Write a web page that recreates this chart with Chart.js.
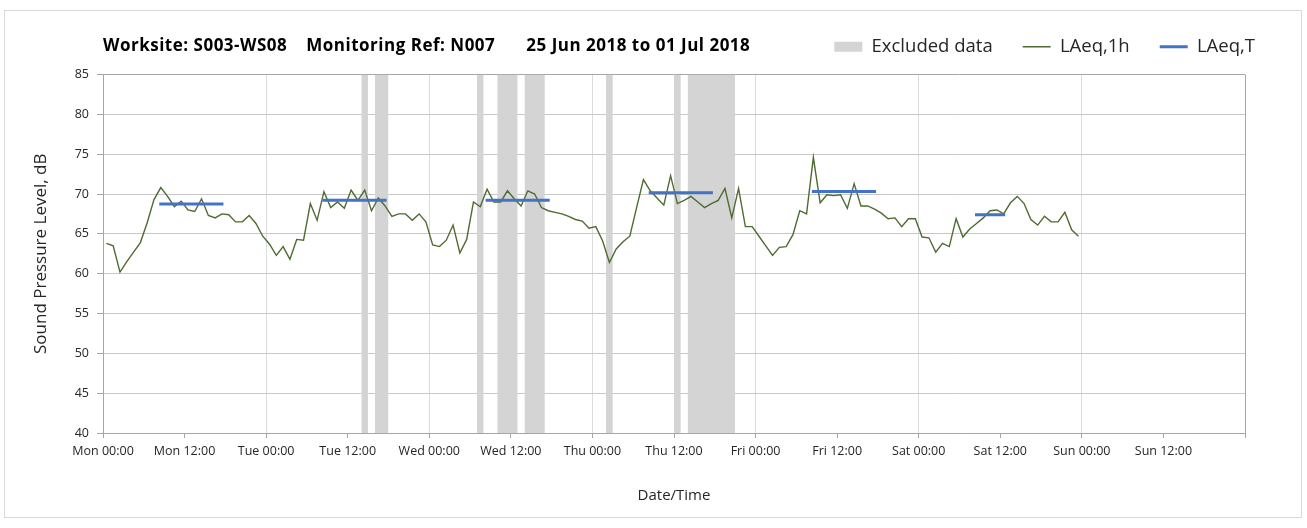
<!DOCTYPE html>
<html>
<head>
<meta charset="utf-8">
<title>Noise monitoring N007</title>
<script src="https://cdn.jsdelivr.net/npm/chart.js@4.4.0/dist/chart.umd.min.js"></script>
<style>
  html, body { margin: 0; padding: 0; background: #fff; }
  #wrap { position: relative; width: 1307px; height: 528px; }
  #frame { position: absolute; left: 4px; top: 10px; width: 1298px; height: 508px; border: 1px solid #d9d9d9; box-sizing: border-box; }
  #chart { position: absolute; left: 0; top: 0; }
  #chartTitle { position: absolute; left: 103px; top: 34px; font: bold 17px 'Open Sans'; letter-spacing: 0.5px; line-height: 22px; color: #000; white-space: pre; }
  #chartTitle span { margin-left: 19px; }
  #chartTitle span.wide { margin-left: 31px; }
</style>
</head>
<body>
<div id="wrap">
  <div id="frame"></div>
  <canvas id="chart" width="1307" height="528"></canvas>
  <div id="chartTitle">Worksite: S003-WS08<span>Monitoring Ref: N007</span><span class="wide">25 Jun 2018 to 01 Jul 2018</span></div>
</div>
<script>
// hourly LAeq,1h from Mon 00:00, one value per hour (plotted mid-hour)
const laeq1h = [
  63.8, 63.5, 60.2, 61.5, 62.7, 63.9, 66.4, 69.3, 70.8, 69.7, 68.4, 69.1,
  68.0, 67.8, 69.4, 67.3, 67.0, 67.5, 67.4, 66.5, 66.5, 67.3, 66.3, 64.7,
  63.7, 62.3, 63.4, 61.8, 64.3, 64.2, 68.8, 66.7, 70.3, 68.3, 69.0, 68.2,
  70.5, 69.2, 70.5, 67.9, 69.5, 68.5, 67.2, 67.5, 67.5, 66.7, 67.5, 66.5,
  63.6, 63.4, 64.2, 66.1, 62.6, 64.3, 69.0, 68.4, 70.6, 69.0, 69.0, 70.4,
  69.4, 68.5, 70.4, 70.0, 68.3, 67.9, 67.7, 67.5, 67.2, 66.8, 66.6, 65.7,
  65.9, 64.1, 61.4, 63.1, 64.0, 64.7, 68.3, 71.8, 70.4, 69.5, 68.6, 72.3,
  68.8, 69.2, 69.7, 69.0, 68.3, 68.8, 69.2, 70.7, 67.0, 70.7, 65.9, 65.9,
  64.7, 63.5, 62.3, 63.3, 63.4, 64.9, 67.9, 67.5, 74.6, 68.9, 69.9, 69.8,
  69.9, 68.2, 71.3, 68.5, 68.5, 68.1, 67.6, 66.9, 67.0, 65.9, 66.9, 66.9,
  64.6, 64.5, 62.7, 63.8, 63.4, 66.9, 64.6, 65.6, 66.3, 67.0, 67.9, 68.0,
  67.5, 68.9, 69.7, 68.8, 66.8, 66.1, 67.2, 66.5, 66.5, 67.7, 65.5, 64.7
];

// LAeq,T daytime periods (hours from Mon 00:00)
const periodStart = [8.5, 32.5, 56.5, 80.5, 104.5, 128.5];
const periodEnd   = [17.5, 41.5, 65.5, 89.5, 113.5, 132.5];
const laeqT       = [68.75, 69.2, 69.2, 70.15, 70.3, 67.4];

// excluded data windows (hours from Mon 00:00)
const excludedStart = [38, 40, 55, 58, 62, 74, 84, 86];
const excludedEnd   = [39, 42, 56, 61, 65, 75, 85, 93];

const tickLabels = [
  'Mon 00:00', 'Mon 12:00', 'Tue 00:00', 'Tue 12:00', 'Wed 00:00', 'Wed 12:00',
  'Thu 00:00', 'Thu 12:00', 'Fri 00:00', 'Fri 12:00', 'Sat 00:00', 'Sat 12:00',
  'Sun 00:00', 'Sun 12:00'
];
const yMin = 40, yMax = 85;

const hourlyPoints = laeq1h.map((v, i) => ({ x: i + 0.5, y: v }));

const periodPoints = [];
periodStart.forEach((s, i) => {
  periodPoints.push({ x: s, y: laeqT[i] }, { x: periodEnd[i], y: laeqT[i] }, { x: periodEnd[i], y: null });
});

const excludedPoints = [];
excludedStart.forEach((s, i) => {
  excludedPoints.push({ x: s, y: yMax }, { x: excludedEnd[i], y: yMax }, { x: excludedEnd[i], y: null });
});

const textColor = '#262626';
const axisGray = '#a6a6a6';
const font = 'Open Sans';

// empty spacer axes, used only to reserve room above and right of the plot
const spacer = size => ({
  display: true,
  min: 0,
  max: 1,
  ticks: { display: false },
  grid: { display: false, drawTicks: false },
  border: { display: false },
  afterFit: s => { if (s.isHorizontal()) s.height = size; else s.width = size; }
});

new Chart(document.getElementById('chart'), {
  type: 'line',
  data: {
    datasets: [
      {
        label: 'Excluded data',
        data: excludedPoints,
        xAxisID: 'x',
        yAxisID: 'y',
        fill: 'start',
        backgroundColor: '#d4d4d4',
        borderWidth: 0,
        borderColor: 'rgba(0,0,0,0)',
        pointRadius: 0,
        pointStyle: 'rect',
        pointBackgroundColor: '#d4d4d4',
        pointBorderWidth: 0,
        spanGaps: false,
        order: 3
      },
      {
        label: 'LAeq,1h',
        data: hourlyPoints,
        xAxisID: 'x',
        yAxisID: 'y',
        borderColor: '#4e6b30',
        borderWidth: 1.4,
        pointRadius: 0,
        pointStyle: 'line',
        pointBorderColor: '#4e6b30',
        pointBorderWidth: 1.4,
        fill: false,
        order: 2
      },
      {
        label: 'LAeq,T',
        data: periodPoints,
        xAxisID: 'x',
        yAxisID: 'y',
        borderColor: '#4472c4',
        borderWidth: 3,
        borderCapStyle: 'square',
        pointRadius: 0,
        pointStyle: 'line',
        pointBorderColor: '#4472c4',
        pointBorderWidth: 3,
        spanGaps: false,
        fill: false,
        order: 1
      }
    ]
  },
  options: {
    responsive: false,
    animation: false,
    layout: { padding: { left: 0, right: 22, top: 7.5, bottom: 0 } },
    plugins: {
      tooltip: { enabled: false },
      title: { display: false },
      legend: {
        position: 'top',
        align: 'end',
        labels: {
          usePointStyle: true,
          pointStyleWidth: 28,
          boxHeight: 10,
          padding: 30,
          color: textColor,
          font: { family: font, size: 18.5 },
          sort: (a, b) => a.datasetIndex - b.datasetIndex
        }
      }
    },
    scales: {
      x: {
        type: 'linear',
        min: 0,
        max: 168,
        afterFit: s => { s.height = 95; },
        ticks: {
          stepSize: 12,
          autoSkip: false,
          maxRotation: 0,
          padding: 6,
          color: textColor,
          font: { family: font, size: 12.5 },
          callback: v => tickLabels[v / 12] || ''
        },
        grid: {
          color: c => {
            const v = c.tick ? c.tick.value : -1;
            if (v === 168) return axisGray;
            return v % 24 === 0 ? '#dcdcdc' : 'rgba(0,0,0,0)';
          },
          tickColor: axisGray,
          tickLength: 5,
          lineWidth: 1
        },
        border: { color: axisGray, width: 1 },
        title: {
          display: true,
          text: 'Date/Time',
          color: textColor,
          font: { family: font, size: 15 },
          padding: { top: 0, bottom: 23 }
        }
      },
      y: {
        min: yMin,
        max: yMax,
        afterFit: s => { s.width = 103; },
        ticks: {
          stepSize: 5,
          padding: 8,
          color: textColor,
          font: { family: font, size: 12.5 }
        },
        grid: {
          color: c => (c.tick && c.tick.value === yMax) ? axisGray : '#c8c8c8',
          tickColor: axisGray,
          tickLength: 6,
          lineWidth: 1
        },
        border: { color: axisGray, width: 1 },
        title: {
          display: true,
          text: 'Sound Pressure Level, dB',
          color: textColor,
          font: { family: font, size: 17 },
          padding: { top: 31, bottom: 0 }
        }
      },
      xTopSpace: Object.assign({ type: 'linear', position: 'top' }, spacer(8.5)),
      yRightSpace: Object.assign({ type: 'linear', position: 'right' }, spacer(40))
    }
  }
});
</script>
</body>
</html>
